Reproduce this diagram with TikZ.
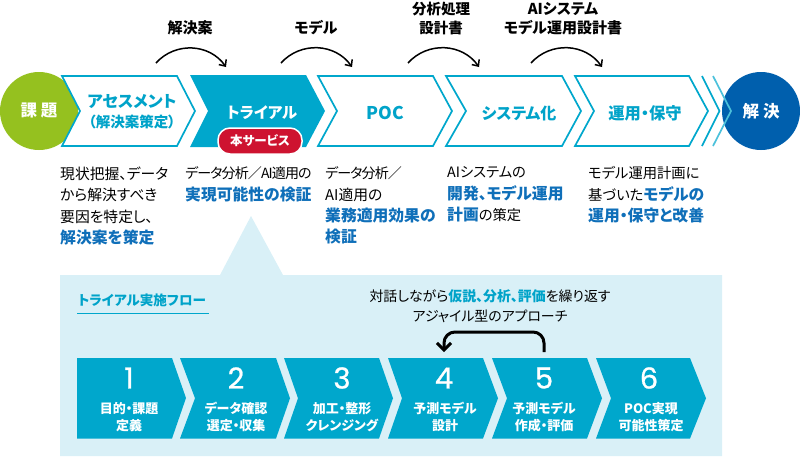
\documentclass[tikz,border=0pt]{standalone}
\usepackage{fontspec}
\usetikzlibrary{arrows.meta}
\setmainfont[RawFeature=+palt]{Noto Sans CJK JP}
\newfontfamily\numfont[FakeBold=0.8]{Poppins}
\definecolor{cy}{HTML}{00A7CC}
\definecolor{cytxt}{HTML}{00A3C9}
\definecolor{bl}{HTML}{0F6FB9}
\definecolor{dkbl}{HTML}{005FAD}
\definecolor{grn}{HTML}{95C11F}
\definecolor{rd}{HTML}{CE1330}
\definecolor{pale}{HTML}{D9F0F7}
\newcommand{\fs}[1]{\fontsize{#1}{#1}\selectfont}
\newcommand{\hl}[1]{\textbf{\textcolor{bl}{\fontsize{15.8}{21.4}\selectfont #1}}}
\newcommand{\hc}[1]{\textbf{\textcolor{cytxt}{#1}}}
\newcommand{\tight}[1]{{\fontsize{14}{21.4}\selectfont\addfontfeature{LetterSpace=-6.3}#1}}
% left-top, notch, right-top, tip, y-top, y-bottom, style
\newcommand{\chevshape}[7]{\path[#7] (#1,#5) -- (#3,#5) -- (#4,{(#5+#6)/2}) -- (#3,#6) -- (#1,#6) -- (#2,{(#5+#6)/2}) -- cycle;}
\tikzset{
  x=1pt,y=-1pt,
  outlinechev/.style={draw=cy,line width=1.7pt,fill=white,miter limit=10},
  solidchev/.style={fill=cy},
  headtxt/.style={font=\bfseries\fs{15},text=black,inner sep=0pt,align=center},
  stagetxt/.style={font=\bfseries\fs{16},text=cytxt,inner sep=0pt,align=center},
  circtxt/.style={font=\bfseries\fs{16.5},text=white,inner sep=0pt},
  desctxt/.style={font=\fontsize{14.8}{21.4}\selectfont,text=black,inner sep=0pt,align=left,anchor=north west},
  flownum/.style={font=\numfont\fs{29},text=white,inner sep=0pt},
  flowtxt/.style={font=\bfseries\fontsize{13}{17.5}\selectfont,text=white,inner sep=0pt,align=center},
  arcline/.style={draw=black,line width=1.5pt,-{Straight Barb[length=5pt,width=9pt]}},
}
\begin{document}
\begin{tikzpicture}
\useasboundingbox (0,0) rectangle (800,456);
% panel
\fill[pale] (60,275) -- (220,275) -- (251,216) -- (283,275) -- (722,275) -- (722,456) -- (60,456) -- cycle;
% end circles
\node[circle,fill=grn,minimum size=78pt,inner sep=0pt] (start) at (39,111) {};
\node[circle,fill=dkbl,minimum size=78pt,inner sep=0pt] (goal) at (761,111) {};
% stage chevrons
\chevshape{62}{80}{177}{195}{76}{146}{outlinechev}
\chevshape{190}{208}{306}{325}{75}{147}{solidchev}
\chevshape{318}{337}{433}{452}{76}{146}{outlinechev}
\chevshape{446}{466}{562}{581}{76}{146}{outlinechev}
\chevshape{575}{594}{689}{708}{76}{146}{outlinechev}
\draw[cy,line width=1.7pt] (702,76) -- (719.5,111) -- (702,146);
\draw[cy!70!white,line width=1.7pt,line join=miter] (713,76) -- (731,111) -- (713,146);
% circle text
\node[circtxt] (starttxt) at (39,111) {課\hspace{4pt}題};
\node[circtxt] (goaltxt) at (761,111) {解\hspace{4pt}決};
% stage text
\node[stagetxt,font=\bfseries\fs{16.3}] (s1a) at (132,102) {アセスメント};
\node[stagetxt,font=\bfseries\fs{14.5}] (s1b) at (132,122) {（解決案策定）};
\node[stagetxt,text=white,font=\bfseries\fs{15.5}] (s2) at (262,113) {トライアル};
\node[stagetxt,font=\bfseries\fs{17.5}] (s3) at (385,113) {POC};
\node[stagetxt] (s4) at (519,113) {システム化};
\node[stagetxt,font=\bfseries\fs{16.3}] (s5) at (645,113) {運用・保守};
\node[draw=white,line width=1.5pt,fill=rd,rounded corners=12pt,minimum width=84pt,minimum height=26pt,inner sep=0pt,font=\bfseries\fs{12.5},text=white] (svc) at (260,141) {本サービス};
% arcs
\coordinate (a1s) at (156,63); \coordinate (a1e) at (226,67);
\coordinate (a2s) at (281,63); \coordinate (a2e) at (352,67);
\coordinate (a3s) at (408,63); \coordinate (a3e) at (479,67);
\coordinate (a4s) at (531,63); \coordinate (a4e) at (602,67);
\draw[arcline] (a1s) to[out=48,in=125,looseness=1.05] (a1e);
\draw[arcline] (a2s) to[out=48,in=125,looseness=1.05] (a2e);
\draw[arcline] (a3s) to[out=48,in=125,looseness=1.05] (a3e);
\draw[arcline] (a4s) to[out=48,in=125,looseness=1.05] (a4e);
% arc labels
\node[headtxt] (h1) at (190,28) {解決案};
\node[headtxt] (h2) at (316,28) {モデル};
\node[headtxt,font=\bfseries\fontsize{14.5}{19}\selectfont] (h3) at (441,18.5) {分析処理\\設計書};
\node[headtxt,font=\bfseries\fontsize{15}{19}\selectfont] (h4) at (563,18.5) {AIシステム\\モデル運用設計書};
% descriptions
\node[desctxt] (d1) at (60,166.5) {現状把握、データ\\から解決すべき\\要因を特定し、\\\hl{解決案を策定}};
\node[desctxt] (d2) at (185,166.5) {\tight{データ分析／AI適用の}\\\hl{実現可能性の検証}};
\node[desctxt] (d3) at (325,166.5) {\tight{データ分析／}\\AI適用の\\\hl{業務適用効果の}\\\hl{検証}};
\node[desctxt,font=\fontsize{14.3}{21.4}\selectfont] (d4) at (447,166.5) {AIシステムの\\\hl{開発、モデル運用}\\\hl{計画}の策定};
\node[desctxt,font=\fontsize{14.3}{21.4}\selectfont] (d5) at (588,166.5) {モデル運用計画に\\基づいた\hl{モデルの}\\\hl{運用・保守と改善}};
% flow heading
\node[inner sep=0pt,font=\bfseries\fs{13.6},text=cytxt] (flowhead) at (142,300) {トライアル実施フロー};
\coordinate (ulS) at (77,313.5); \coordinate (ulE) at (209,313.5);
\draw[cy,line width=0.8pt] (ulS) -- (ulE);
\node[inner sep=0pt,align=center,font=\fontsize{13.9}{20}\selectfont,text=black] (note) at (490,306) {対話しながら\hc{仮説、分析、評価}を繰り返す\\アジャイル型のアプローチ};
% flow chevrons
\path[solidchev] (77,358) -- (172,358) -- (186,398) -- (172,438.5) -- (77,438.5) -- cycle;
\chevshape{180}{195}{276}{290}{358}{438.5}{solidchev}
\chevshape{284}{298}{379}{393}{358}{438.5}{solidchev}
\chevshape{388}{402}{483}{498}{358}{438.5}{solidchev}
\chevshape{492}{507}{587}{602}{358}{438.5}{solidchev}
\chevshape{596}{611}{690}{706}{358}{438.5}{solidchev}
% flow contents
\node[flownum] (n1) at (129,378) {1};
\node[flownum] (n2) at (236,378) {2};
\node[flownum] (n3) at (342,378) {3};
\node[flownum] (n4) at (444,378) {4};
\node[flownum] (n5) at (544,378) {5};
\node[flownum] (n6) at (649,378) {6};
\node[flowtxt] (t1) at (129,417) {目的・課題\\定義};
\node[flowtxt] (t2) at (236,417) {データ確認\\選定・収集};
\node[flowtxt] (t3) at (342,417) {加工・整形\\クレンジング};
\node[flowtxt] (t4) at (445,417) {予測モデル\\設計};
\node[flowtxt] (t5) at (544,417) {予測モデル\\作成・評価};
\node[flowtxt] (t6) at (651,417) {POC実現\\可能性策定};
% feedback arrow
\coordinate (back5) at (544,352);
\coordinate (back4) at (444,352);
\coordinate (backtop) at (444,332);
\draw[black,line width=3pt,rounded corners=11pt,-{Straight Barb[length=7pt,width=14pt]}] (back5) |- (backtop) -- (back4);
\end{tikzpicture}
\end{document}
